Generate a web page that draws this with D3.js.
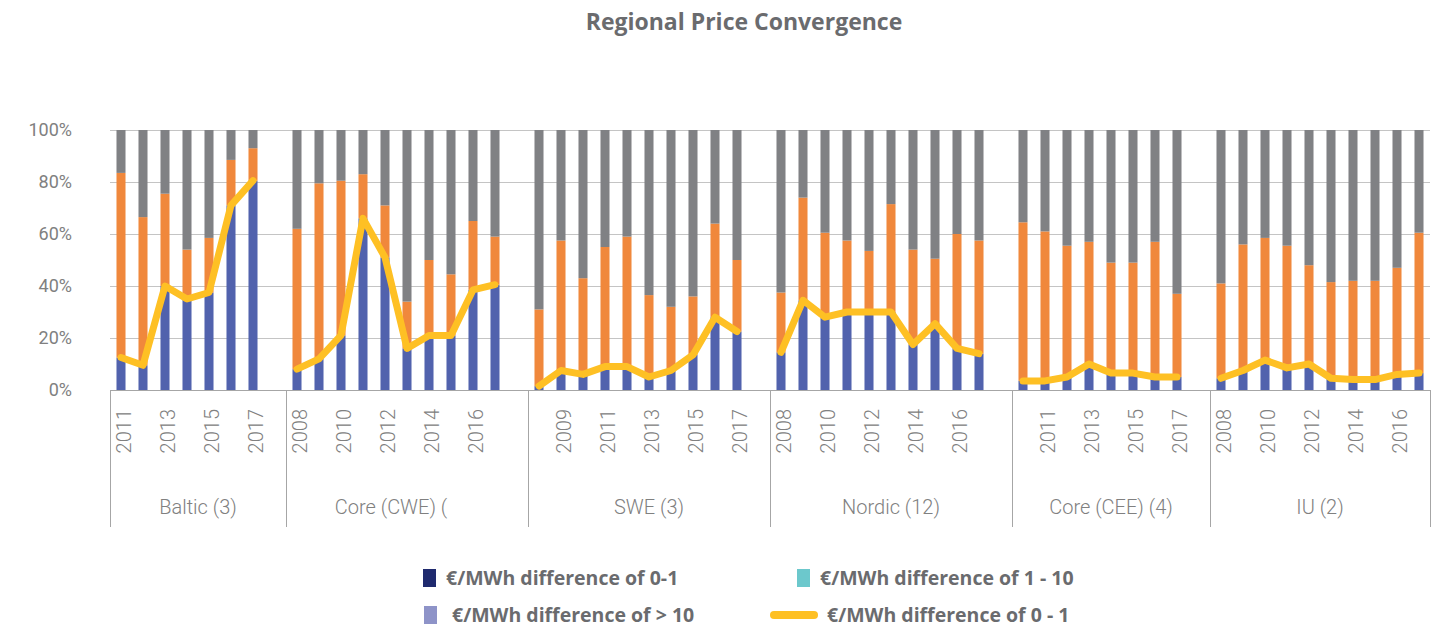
<!DOCTYPE html>
<html>
<head>
<meta charset="utf-8">
<script src="https://cdn.jsdelivr.net/npm/d3@7"></script>
<style>
  body { margin: 0; background: #fff; }
  svg { display: block; font-family: Roboto, "Noto Sans", sans-serif; }
</style>
</head>
<body>
<svg id="chart" width="1436" height="628"></svg>
<script>
const groups = ["Baltic (3)", "Core (CWE) (", "SWE (3)", "Nordic (12)", "Core (CEE) (4)", "IU (2)"];

const years = [
  [2011, 2012, 2013, 2014, 2015, 2016, 2017],
  [2008, 2009, 2010, 2011, 2012, 2013, 2014, 2015, 2016, 2017],
  [2008, 2009, 2010, 2011, 2012, 2013, 2014, 2015, 2016, 2017],
  [2008, 2009, 2010, 2011, 2012, 2013, 2014, 2015, 2016, 2017],
  [2010, 2011, 2012, 2013, 2014, 2015, 2016, 2017],
  [2008, 2009, 2010, 2011, 2012, 2013, 2014, 2015, 2016, 2017],
];

// share of hours with a price difference of 0-1 €/MWh (blue bars + yellow line)
const diff0to1 = [
  [12.5, 9.5, 40, 35, 37.5, 71, 80.5],
  [8, 12, 21, 66, 51, 16, 21, 21, 38.5, 40.5],
  [1.5, 7.5, 6, 9, 9, 5, 7.5, 13.5, 28, 22.5],
  [14.5, 34.5, 28, 30, 30, 30, 17.5, 25.5, 16, 14],
  [3.5, 3.5, 5, 10, 6.5, 6.5, 5, 5],
  [4.5, 7.5, 11.5, 8.5, 10, 4.5, 4, 4, 6, 6.5],
];

// 1-10 €/MWh (orange)
const diff1to10 = [
  [71, 57, 35.5, 19, 21, 17.5, 12.5],
  [54, 67.5, 59.5, 17, 20, 18, 29, 23.5, 26.5, 18.5],
  [29.5, 50, 37, 46, 50, 31.5, 24.5, 22.5, 36, 27.5],
  [23, 39.5, 32.5, 27.5, 23.5, 41.5, 36.5, 25, 44, 43.5],
  [61, 57.5, 50.5, 47, 42.5, 42.5, 52, 32],
  [36.5, 48.5, 47, 47, 38, 37, 38, 38, 41, 54],
];

// > 10 €/MWh (grey)
const diffOver10 = [
  [16.5, 33.5, 24.5, 46, 41.5, 11.5, 7],
  [38, 20.5, 19.5, 17, 29, 66, 50, 55.5, 35, 41],
  [69, 42.5, 57, 45, 41, 63.5, 68, 64, 36, 50],
  [62.5, 26, 39.5, 42.5, 46.5, 28.5, 46, 49.5, 40, 42.5],
  [35.5, 39, 44.5, 43, 51, 51, 43, 63],
  [59, 44, 41.5, 44.5, 52, 58.5, 58, 58, 53, 39.5],
];

const yTicks = [0, 20, 40, 60, 80, 100];

const legendItems = [
  "€/MWh difference of 0-1",
  "€/MWh difference of 1 - 10",
  "€/MWh difference of > 10",
  "€/MWh difference of 0 - 1",
];

const colors = { a: "#5162ad", b: "#f0883c", c: "#808184", line: "#fec024" };
const legendColors = ["#1f2a6e", "#6cc8cc", "#8e93c8", "#fec024"];

// build slots: every group gets a blank slot after it, except the last
const slots = [];
const rows = [];
groups.forEach((g, gi) => {
  years[gi].forEach((yr, i) => {
    const r = { key: g + "|" + yr, group: gi, year: yr,
      a: diff0to1[gi][i], b: diff1to10[gi][i], c: diffOver10[gi][i] };
    rows.push(r);
    slots.push(r.key);
  });
  if (gi < groups.length - 1) slots.push(g + "|gap");
});

const plotLeft = 110, plotRight = 1430, plotTop = 130, plotBottom = 390;
const svg = d3.select("#chart");

const x = d3.scaleBand().domain(slots).range([plotLeft, plotRight])
  .paddingInner(0.59).paddingOuter(0.295);
const y = d3.scaleLinear().domain([0, 100]).range([plotBottom, plotTop]);
const half = (x.step() - x.bandwidth()) / 2;

// gridlines
svg.append("g")
  .selectAll("line")
  .data(yTicks)
  .join("line")
  .attr("x1", plotLeft).attr("x2", plotRight)
  .attr("y1", (d) => y(d) + 0.5).attr("y2", (d) => y(d) + 0.5)
  .attr("stroke", "#c4c4c4");

// y axis (labels only)
const yAxis = svg.append("g")
  .attr("transform", `translate(${plotLeft},0)`)
  .call(d3.axisLeft(y).tickValues(yTicks).tickSize(0).tickPadding(38).tickFormat((d) => d + "%"));
yAxis.select(".domain").remove();
yAxis.selectAll(".tick line").remove();
yAxis.selectAll("text")
  .attr("fill", "#808080")
  .style("font-family", "Roboto, sans-serif")
  .style("font-size", "18px");

// stacked bars
const layers = d3.stack().keys(["a", "b", "c"])(rows);
svg.append("g")
  .selectAll("g")
  .data(layers)
  .join("g")
  .attr("fill", (d) => colors[d.key])
  .selectAll("rect")
  .data((d) => d)
  .join("rect")
  .attr("x", (d) => x(d.data.key))
  .attr("width", x.bandwidth())
  .attr("y", (d) => y(d[1]))
  .attr("height", (d) => y(d[0]) - y(d[1]));

// yellow line, one per group
const line = d3.line()
  .x((d) => x(d.key) + x.bandwidth() / 2)
  .y((d) => y(d.a));
svg.append("g")
  .selectAll("path")
  .data(groups.map((g, gi) => rows.filter((r) => r.group === gi)))
  .join("path")
  .attr("d", line)
  .attr("fill", "none")
  .attr("stroke", colors.line)
  .attr("stroke-width", 7)
  .attr("stroke-linejoin", "round")
  .attr("stroke-linecap", "round");

// category axis
svg.append("line")
  .attr("x1", plotLeft).attr("x2", plotRight)
  .attr("y1", plotBottom + 0.5).attr("y2", plotBottom + 0.5)
  .attr("stroke", "#a6a6a6");

const bounds = groups.map((g, gi) => x(g + "|" + years[gi][0]) - half);
bounds.push(plotRight);
svg.append("g")
  .selectAll("line")
  .data(bounds)
  .join("line")
  .attr("x1", (d) => Math.round(d) + 0.5).attr("x2", (d) => Math.round(d) + 0.5)
  .attr("y1", plotBottom).attr("y2", 527)
  .attr("stroke", "#a6a6a6");

// year labels, every second slot
svg.append("g")
  .selectAll("text")
  .data(slots.map((k, i) => ({ k, i })).filter((d) => d.i % 2 === 0 && !d.k.endsWith("gap")))
  .join("text")
  .attr("transform", (d) => `translate(${x(d.k) + x.bandwidth() / 2 + 10},409) rotate(-90)`)
  .attr("text-anchor", "end")
  .attr("fill", "#808080")
  .style("font-size", "20px")
  .style("font-weight", 300)
  .text((d) => d.k.split("|")[1]);

// group labels
svg.append("g")
  .selectAll("text")
  .data(groups)
  .join("text")
  .attr("x", (d, i) => {
    const c = (bounds[i] + bounds[i + 1]) / 2;
    return d.endsWith("(") ? c - 16 : c;
  })
  .attr("y", 514)
  .attr("text-anchor", "middle")
  .attr("fill", "#808080")
  .style("font-size", "20px")
  .style("font-weight", 300)
  .text((d) => d);

// title
svg.append("text")
  .attr("x", 744)
  .attr("y", 30)
  .attr("text-anchor", "middle")
  .attr("fill", "#6a6b6e")
  .style("font-family", "'Open Sans', sans-serif")
  .style("font-size", "23px")
  .style("font-weight", "bold")
  .text("Regional Price Convergence");

// legend
const legendPos = [
  { x: 423, y: 578, tx: 446 },
  { x: 797, y: 578, tx: 820 },
  { x: 424, y: 615, tx: 452 },
  { x: 770, y: 615, tx: 827 },
];
const legend = svg.append("g");
legendItems.forEach((t, i) => {
  const p = legendPos[i];
  if (i < 3) {
    legend.append("rect")
      .attr("x", p.x).attr("y", p.y - 9)
      .attr("width", 13).attr("height", 18)
      .attr("fill", legendColors[i]);
  } else {
    legend.append("line")
      .attr("x1", p.x + 4).attr("x2", p.x + 44)
      .attr("y1", p.y).attr("y2", p.y)
      .attr("stroke", legendColors[i])
      .attr("stroke-width", 8)
      .attr("stroke-linecap", "round");
  }
  legend.append("text")
    .attr("x", p.tx).attr("y", p.y + 7)
    .attr("fill", "#6a6b6e")
    .style("font-family", "'Open Sans', sans-serif")
    .style("font-size", "19.5px")
    .style("font-weight", "bold")
    .text(t);
});
</script>
</body>
</html>
